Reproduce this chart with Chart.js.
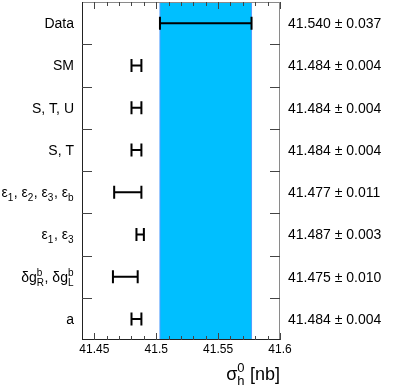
<!DOCTYPE html>
<html>
<head>
<meta charset="utf-8">
<script src="https://cdn.jsdelivr.net/npm/chart.js@4.4.0/dist/chart.umd.min.js"></script>
<style>
html, body { margin: 0; padding: 0; background: #fff; }
</style>
</head>
<body>
<canvas id="sigmaChart" width="407" height="386"></canvas>
<script>
// fit results, top to bottom
var fitLabels = ['Data', 'SM', 'S, T, U', 'S, T', 'ε_1, ε_2, ε_3, ε_b', 'ε_1, ε_3', 'δg_R^b, δg_L^b', 'a'];
var fitValues = [41.540, 41.484, 41.484, 41.484, 41.477, 41.487, 41.475, 41.484];
var fitErrors = [0.037, 0.004, 0.004, 0.004, 0.011, 0.003, 0.010, 0.004];
var xTicks = [41.45, 41.5, 41.55, 41.6];
var xTitle = 'σ_h^0 [nb]';

var FONT = '"Liberation Sans", Arial, Helvetica, sans-serif';

// split "ε_1" / "g_R^b" style strings into plain text and sub/sup pieces
function parseRich(str) {
    var parts = [];
    var i = 0;
    while (i < str.length) {
        var c = str[i];
        if (c === '_' || c === '^') {
            var piece = { sub: '', sup: '' };
            while (i < str.length && (str[i] === '_' || str[i] === '^')) {
                if (str[i] === '_') piece.sub = str[i + 1]; else piece.sup = str[i + 1];
                i += 2;
            }
            parts.push(piece);
        } else {
            var last = parts[parts.length - 1];
            if (last && last.text !== undefined) last.text += c; else parts.push({ text: c });
            i++;
        }
    }
    return parts;
}

function drawRich(ctx, str, x, y, size, align) {
    var parts = parseRich(str);
    var big = size + 'px ' + FONT;
    var little = Math.round(size * 0.7) + 'px ' + FONT;
    var widths = parts.map(function(p) {
        if (p.text !== undefined) { ctx.font = big; return ctx.measureText(p.text).width; }
        ctx.font = little;
        return Math.max(ctx.measureText(p.sub).width, ctx.measureText(p.sup).width) + 0.5;
    });
    var total = widths.reduce(function(a, b) { return a + b; }, 0);
    var cx = align === 'right' ? x - total : x;
    ctx.textAlign = 'left';
    ctx.textBaseline = 'alphabetic';
    parts.forEach(function(p, k) {
        if (p.text !== undefined) {
            ctx.font = big;
            ctx.fillText(p.text, cx, y);
        } else {
            ctx.font = little;
            if (p.sub) ctx.fillText(p.sub, cx, y + size * 0.28);
            if (p.sup) ctx.fillText(p.sup, cx, y - size * 0.42);
        }
        cx += widths[k];
    });
}

var sigmaPlot = {
    id: 'sigmaPlot',
    beforeDatasetsDraw: function(chart) {
        var c = chart.ctx, a = chart.chartArea, xs = chart.scales.x;
        // measured band
        var x1 = xs.getPixelForValue(fitValues[0] - fitErrors[0]);
        var x2 = xs.getPixelForValue(fitValues[0] + fitErrors[0]);
        c.save();
        c.fillStyle = '#00bfff';
        c.fillRect(x1, a.top, x2 - x1, a.bottom - a.top);
        c.strokeStyle = '#4f9dff';
        c.lineWidth = 1;
        c.beginPath();
        c.moveTo(x1, a.top); c.lineTo(x1, a.bottom);
        c.moveTo(x2, a.top); c.lineTo(x2, a.bottom);
        c.stroke();
        c.restore();
    },
    afterDatasetsDraw: function(chart) {
        var c = chart.ctx, a = chart.chartArea, xs = chart.scales.x, ys = chart.scales.y;
        c.save();

        // error bars
        c.strokeStyle = '#000';
        c.lineWidth = 2;
        fitValues.forEach(function(v, i) {
            var y = ys.getPixelForValue(i);
            var lo = xs.getPixelForValue(v - fitErrors[i]);
            var hi = xs.getPixelForValue(v + fitErrors[i]);
            c.beginPath();
            c.moveTo(lo, y); c.lineTo(hi, y);
            c.moveTo(lo, y - 6.5); c.lineTo(lo, y + 6.5);
            c.moveTo(hi, y - 6.5); c.lineTo(hi, y + 6.5);
            c.stroke();
        });

        // frame
        c.lineWidth = 1;
        c.strokeStyle = '#8a8a8a';
        c.beginPath();
        c.moveTo(a.left, a.top + 0.5); c.lineTo(a.right, a.top + 0.5);
        c.moveTo(a.right - 0.5, a.top); c.lineTo(a.right - 0.5, a.bottom);
        c.stroke();
        c.strokeStyle = '#222';
        c.beginPath();
        c.moveTo(a.left + 0.5, a.top); c.lineTo(a.left + 0.5, a.bottom);
        c.moveTo(a.left, a.bottom - 0.5); c.lineTo(a.right, a.bottom - 0.5);
        c.stroke();

        // x ticks every 0.01, longer on labelled values
        c.strokeStyle = '#444';
        c.beginPath();
        for (var k = 1; k <= 16; k++) {
            var v = xs.min + k * 0.01;
            var px = Math.round(xs.getPixelForValue(v)) + 0.5;
            var major = xTicks.some(function(t) { return Math.abs(t - v) < 1e-6; });
            var len = major ? 7 : 4;
            c.moveTo(px, a.bottom); c.lineTo(px, a.bottom - len);
            c.moveTo(px, a.top); c.lineTo(px, a.top + len);
        }
        // row separators
        for (var i = 0; i < fitLabels.length - 1; i++) {
            var py = Math.round((ys.getPixelForValue(i) + ys.getPixelForValue(i + 1)) / 2) + 0.5;
            c.moveTo(a.left, py); c.lineTo(a.left + 10, py);
            c.moveTo(a.right, py); c.lineTo(a.right - 10, py);
        }
        c.stroke();

        // row labels and fit values
        c.fillStyle = '#000';
        fitLabels.forEach(function(lab, i) {
            var y = ys.getPixelForValue(i);
            drawRich(c, lab, a.left - 8, y + 5, 14, 'right');
            c.font = '14px ' + FONT;
            c.textAlign = 'left';
            c.textBaseline = 'alphabetic';
            c.fillText(fitValues[i].toFixed(3) + ' ± ' + fitErrors[i].toFixed(3), a.right + 8, y + 5);
        });

        // axis title
        drawRich(c, xTitle, a.right, 380, 18, 'right');
        c.restore();
    }
};

var ctx = document.getElementById('sigmaChart').getContext('2d');
var myChart = new Chart(ctx, {
    type: 'scatter',
    data: {
        labels: fitLabels,
        datasets: [{
            label: 'fits',
            data: fitValues.map(function(v, i) { return { x: v, y: fitLabels[i] }; }),
            pointRadius: 0
        }]
    },
    options: {
        responsive: false,
        animation: false,
        devicePixelRatio: 1,
        layout: { padding: { top: 2, right: 127, left: 0, bottom: 0 } },
        plugins: {
            legend: { display: false },
            tooltip: { enabled: false }
        },
        scales: {
            x: {
                type: 'linear',
                min: 41.44,
                max: 41.6,
                afterBuildTicks: function(s) {
                    s.ticks = xTicks.map(function(v) { return { value: v }; });
                },
                afterFit: function(s) { s.height = 46; },
                grid: { display: false, drawTicks: false },
                border: { display: false },
                ticks: {
                    padding: 2,
                    color: '#000',
                    font: { family: FONT, size: 12 },
                    maxRotation: 0,
                    callback: function(v) { return String(v); }
                }
            },
            y: {
                type: 'category',
                labels: fitLabels,
                offset: true,
                afterFit: function(s) { s.width = 82; },
                grid: { display: false },
                border: { display: false },
                ticks: { display: false }
            }
        }
    },
    plugins: [sigmaPlot]
});
</script>
</body>
</html>
